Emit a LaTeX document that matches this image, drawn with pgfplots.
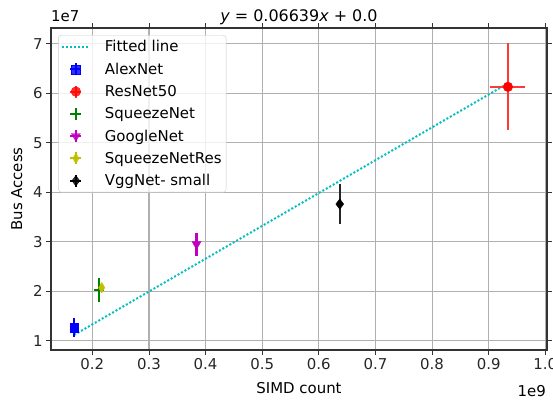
\documentclass[border=0pt]{standalone}
\usepackage{pgfplots}
\pgfplotsset{compat=1.18}
\usepackage{fontspec}
\setmainfont{DejaVu Sans}
\usetikzlibrary{plotmarks}

\definecolor{fitcyan}{rgb}{0,0.75,0.75}
\definecolor{mplgreen}{rgb}{0,0.5,0}
\definecolor{mplmag}{rgb}{0.75,0,0.75}
\definecolor{mplyel}{rgb}{0.75,0.75,0}
\definecolor{gridgray}{rgb}{0.69,0.69,0.69}
\definecolor{legframe}{rgb}{0.8,0.8,0.8}

\newcommand{\lbl}{\fontsize{15}{18}\selectfont}

\pgfplotsset{
  % symmetric x and y error bars without caps
  eb/.style={
    /pgfplots/error bars/x dir=both, /pgfplots/error bars/x explicit,
    /pgfplots/error bars/y dir=both, /pgfplots/error bars/y explicit,
    /pgfplots/error bars/error mark=none,
    /pgfplots/error bars/error bar style={line width=2.2pt, #1}},
  % legend sample: short error-bar cross with the marker on top
  ebleg/.style={
    legend image code/.code={
      \path (0bp,-7bp) (27bp,7bp);
      \draw[line width=2pt,#1] (13.5bp,-6bp) -- (13.5bp,6bp);
      \draw[line width=2pt,#1] (8bp,0bp) -- (19bp,0bp);
      \draw[only marks] plot coordinates {(13.5bp,0bp)};
    }
  },
  lineleg/.style={
    legend image code/.code={
      \path (0bp,-7bp) (27bp,7bp);
      \draw (0bp,0bp) -- (27bp,0bp);
    }
  }
}

\begin{document}
\begin{tikzpicture}
\useasboundingbox (-51bp,-50bp) rectangle (502bp,350bp);
\begin{axis}[
  scale only axis,
  width=496bp, height=322bp,
  xmin=0.127, xmax=1.003,
  ymin=0.81, ymax=7.32,
  xtick={0.2,0.3,...,1.0},
  ytick={1,2,...,7},
  /pgf/number format/assume math mode=true,
  xticklabel style={/pgf/number format/.cd,fixed,fixed zerofill,precision=1},
  yticklabel style={/pgf/number format/.cd,fixed,precision=0},
  ticklabel style={font=\lbl, text=black!85},
  tick align=outside,
  major tick length=4.8bp,
  tick style={black!80, line width=0.9pt},
  axis line style={black!80, line width=1.1pt},
  grid=major,
  major grid style={gridgray, line width=1.1pt},
  xlabel={SIMD count},
  ylabel={Bus Access},
  label style={font=\lbl},
  xlabel style={yshift=-6bp},
  ylabel style={yshift=4bp},
  title={\fontsize{16}{19}\selectfont\itshape y\upshape\ = 0.06639\itshape x\upshape\ + 0.0},
  title style={yshift=-6bp},
  legend style={at={(0.0145,0.978)}, anchor=north west,
    font=\lbl,
    draw=legframe, fill=white, fill opacity=0.8, text opacity=1,
    rounded corners=3pt, row sep=6.6bp, inner xsep=3bp, inner ysep=3.5bp,
    nodes={inner sep=1.5bp},
    /tikz/every odd column/.append style={column sep=13bp}},
  legend cell align=left,
  clip=false,
]
% least-squares line through the origin, y = 6.639 x (scaled units)
\addplot[fitcyan, dotted, line width=2pt, lineleg]
  coordinates {(0.168,1.1154) (0.212,1.4075) (0.2166,1.4380) (0.384,2.5494) (0.637,4.2290) (0.934,6.2008)};
\addlegendentry{Fitted line}

\addplot[mark=square*, mark size=4.4bp, blue, ebleg=blue, eb=blue]
  coordinates {(0.168,1.26) +- (0.004,0.19)};
\addlegendentry{AlexNet}

\addplot[mark=*, mark size=4.8bp, red, ebleg={red!80}, eb={red!78}]
  coordinates {(0.934,6.13) +- (0.031,0.88)};
\addlegendentry{ResNet50}

\addplot[mark=+, mark size=4.8bp, mplgreen, mark options={line width=2.6pt}, ebleg=mplgreen, eb=mplgreen]
  coordinates {(0.212,2.02) +- (0.002,0.24)};
\addlegendentry{SqueezeNet}

\addplot[mark=triangle*, mark size=5.2bp, mplmag, mark options={rotate=180}, ebleg=mplmag, eb=mplmag]
  coordinates {(0.384,2.95) +- (0.002,0.23)};
\addlegendentry{GoogleNet}

\addplot[mark=diamond*, mark size=5.2bp, mplyel, mark options={xscale=0.8}, ebleg=mplyel, eb=mplyel]
  coordinates {(0.2166,2.07) +- (0.002,0.08)};
\addlegendentry{SqueezeNetRes}

\addplot[mark=diamond*, mark size=5.2bp, black, ebleg=black, eb=black!85]
  coordinates {(0.637,3.76) +- (0.002,0.40)};
\addlegendentry{VggNet- small}

\node[anchor=south west, font=\lbl, inner sep=0pt] at (rel axis cs:0,1) [yshift=6bp] {1e7};
\node[anchor=north east, font=\lbl, inner sep=0pt] at (rel axis cs:1,0) [xshift=-1bp,yshift=-35bp] {1e9};
\end{axis}
\end{tikzpicture}
\end{document}
